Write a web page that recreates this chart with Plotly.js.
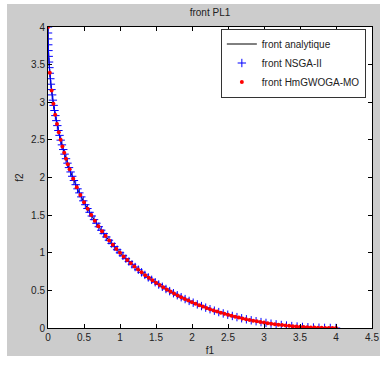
<!DOCTYPE html>
<html>
<head>
<meta charset="utf-8">
<script src="https://cdn.plot.ly/plotly-3.0.1.min.js"></script>
<style>
html,body{margin:0;padding:0;background:#ffffff;width:380px;height:365px;overflow:hidden;}
#chart{position:absolute;left:7px;top:4px;width:373px;height:352px;}
</style>
</head>
<body>
<div id="chart"></div>
<script>
// Analytic front
var analyticF1 = [0,0.01,0.04,0.09,0.16,0.25,0.36,0.49,0.64,0.81,1,1.21,1.44,1.69,1.96,2.25,2.56,2.89,3.24,3.61,4];
var analyticF2 = [4,3.61,3.24,2.89,2.56,2.25,1.96,1.69,1.44,1.21,1,0.81,0.64,0.49,0.36,0.25,0.16,0.09,0.04,0.01,0];

// NSGA-II points
var nsgaF1 = [0,0.0004,0.0016,0.0036,0.0064,0.01,0.0144,0.0196,0.0256,0.0324,0.04,0.0484,0.0576,0.0676,0.0784,0.09,0.1024,0.1156,0.1296,0.1444,0.16,0.1764,0.1936,0.2116,0.2304,0.25,0.2704,0.2916,0.3136,0.3364,0.36,0.3844,0.4096,0.4356,0.4624,0.49,0.5184,0.5476,0.5776,0.6084,0.64,0.6724,0.7056,0.7396,0.7744,0.81,0.8464,0.8836,0.9216,0.9604,1,
1.0404,1.0816,1.1236,1.1664,1.21,1.2544,1.2996,1.3456,1.3924,1.44,1.4884,1.5376,1.5876,1.6384,1.69,1.7424,1.7956,1.8496,1.9044,1.96,2.0164,2.0736,2.1316,2.1904,2.25,2.3104,2.3716,2.4336,2.4964,2.56,2.6244,2.6896,2.7556,2.8224,2.89,2.9584,3.0276,3.0976,3.1684,3.24,3.3124,3.3856,3.4596,3.5344,3.61,3.6864,3.7636,3.8416,3.9204,4];
var nsgaF2 = [4,3.9204,3.8416,3.7636,3.6864,3.61,3.5344,3.4596,3.3856,3.3124,3.24,3.1684,3.0976,3.0276,2.9584,2.89,2.8224,2.7556,2.6896,2.6244,2.56,2.4964,2.4336,2.3716,2.3104,2.25,2.1904,2.1316,2.0736,2.0164,1.96,1.9044,1.8496,1.7956,1.7424,1.69,1.6384,1.5876,1.5376,1.4884,1.44,1.3924,1.3456,1.2996,1.2544,1.21,1.1664,1.1236,1.0816,1.0404,1,
0.9604,0.9216,0.8836,0.8464,0.81,0.7744,0.7396,0.7056,0.6724,0.64,0.6084,0.5776,0.5476,0.5184,0.49,0.4624,0.4356,0.4096,0.3844,0.36,0.3364,0.3136,0.2916,0.2704,0.25,0.2304,0.2116,0.1936,0.1764,0.16,0.1444,0.1296,0.1156,0.1024,0.09,0.0784,0.0676,0.0576,0.0484,0.04,0.0324,0.0256,0.0196,0.0144,0.01,0.0064,0.0036,0.0016,0.0004,0];

// HmGWOGA-MO points
var hmgF1 = [0,0.025,0.05,0.075,0.1,0.125,0.15,0.175,0.2,0.225,0.25,0.275,0.3,0.35,0.4,0.45,0.5,0.55,0.6,0.65,0.7,0.75,0.8,0.85,0.9,0.95,1,1.05,1.1,1.15,1.2,1.25,1.3,1.35,1.4,1.45,1.5,1.55,1.6,1.65,1.7,1.75,1.8,1.85,1.9,1.95,2,2.05,2.1,2.15,2.2,2.25,2.3,2.35,2.4,2.45,2.5,2.55,2.6,2.65,2.7,2.75,2.8,2.85,2.9,2.95,3,3.05,3.1,3.15,3.2,3.25,3.3,3.35,3.4,3.45,3.5,3.55,3.6,3.65,3.7,3.75,3.8,3.85,3.9,3.95,4];
var hmgF2 = [4,3.3925,3.1556,2.9796,2.8351,2.7108,2.6008,2.5017,2.4111,2.3276,2.25,2.1774,2.1091,1.9836,1.8702,1.7667,1.6716,1.5835,1.5016,1.4251,1.3534,1.2859,1.2223,1.1622,1.1053,1.0513,1,0.9512,0.9048,0.8605,0.8182,0.7779,0.7393,0.7024,0.6671,0.6334,0.6010,0.5700,0.5404,0.5119,0.4846,0.4585,0.4334,0.4094,0.3864,0.3643,0.3431,0.3229,0.3035,0.2849,0.2670,0.25,0.2337,0.2181,0.2032,0.1890,0.1754,0.1625,0.1502,0.1385,0.1273,0.1168,0.1067,0.0972,0.0882,0.0798,0.0718,0.0643,0.0573,0.0507,0.0446,0.0389,0.0336,0.0288,0.0244,0.0203,0.0167,0.0134,0.0105,0.0080,0.0058,0.0040,0.0026,0.0014,0.0006,0.0002,0];

var seriesNames = ['front analytique','front NSGA-II','front HmGWOGA-MO'];
var titleText = 'front PL1';
var xTitle = 'f1';
var yTitle = 'f2';
var xTicks = [0,0.5,1,1.5,2,2.5,3,3.5,4,4.5];
var xTickText = ['0','0.5','1','1.5','2','2.5','3','3.5','4','4.5'];
var yTicks = [0,0.5,1,1.5,2,2.5,3,3.5,4];
var yTickText = ['0','0.5','1','1.5','2','2.5','3','3.5','4'];

var font = {family:'Liberation Sans, Arial, sans-serif', size:10, color:'#222222'};

var traces = [
  {x:analyticF1, y:analyticF2, name:seriesNames[0], type:'scatter', mode:'lines',
   line:{color:'#000000', width:1, shape:'spline'}},
  {x:nsgaF1, y:nsgaF2, name:seriesNames[1], type:'scatter', mode:'markers',
   marker:{symbol:'cross-thin', size:6, color:'#0000ff', line:{color:'#0000ff', width:1}}},
  {x:hmgF1, y:hmgF2, name:seriesNames[2], type:'scatter', mode:'markers',
   marker:{symbol:'circle', size:4, color:'#ff0000', line:{width:0}}}
];

var axisCommon = {
  showline:true, linecolor:'#000000', linewidth:1, mirror:'ticks',
  ticks:'inside', ticklen:4, tickcolor:'#000000', tickwidth:1,
  showgrid:false, zeroline:false, tickfont:font, tickmode:'array'
};

var layout = {
  width:373, height:352,
  paper_bgcolor:'#cccccc', plot_bgcolor:'#ffffff',
  margin:{l:41, r:8, t:23, b:28},
  font:font,
  title:{text:titleText, font:{family:font.family, size:10, color:'#222222'},
         x:0.5, xref:'paper', y:0.977, yref:'container', yanchor:'middle'},
  xaxis:Object.assign({}, axisCommon, {
    range:[0,4.5], tickvals:xTicks, ticktext:xTickText,
    title:{text:xTitle, font:font, standoff:4}, automargin:false
  }),
  yaxis:Object.assign({}, axisCommon, {
    range:[0,4], tickvals:yTicks, ticktext:yTickText,
    title:{text:yTitle, font:font, standoff:5}, automargin:false
  }),
  showlegend:true,
  legend:{x:0.981, y:0.995, xanchor:'right', yanchor:'top',
    bgcolor:'#ffffff', bordercolor:'#333333', borderwidth:1,
    font:font, tracegroupgap:0, itemwidth:30}
};

Plotly.newPlot('chart', traces, layout, {displayModeBar:false, staticPlot:true});
</script>
</body>
</html>
